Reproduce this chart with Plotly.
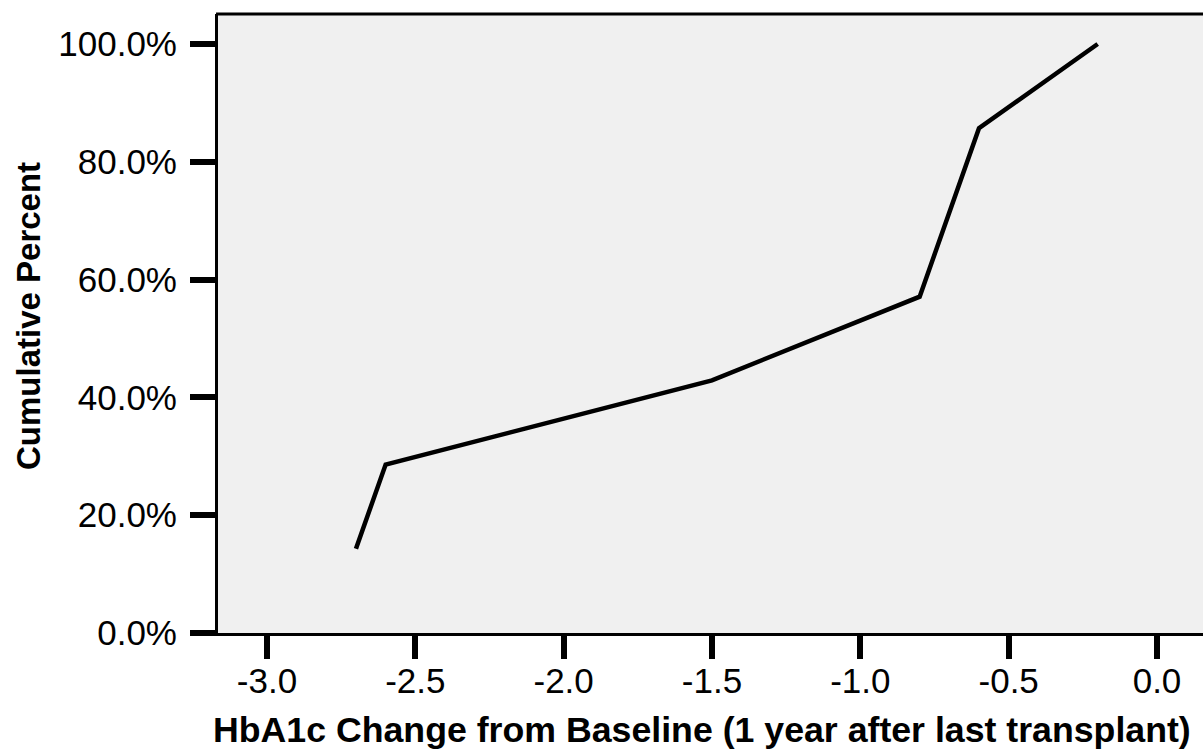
import plotly.graph_objects as go

# Data
hba1c_change = [-2.7, -2.6, -1.5, -0.8, -0.6, -0.2]
cumulative_percent = [14.3, 28.6, 42.9, 57.1, 85.7, 100.0]

x_tick_vals = [-3.0, -2.5, -2.0, -1.5, -1.0, -0.5, 0.0]
x_tick_text = ["-3.0", "-2.5", "-2.0", "-1.5", "-1.0", "-0.5", "0.0"]
y_tick_vals = [0, 20, 40, 60, 80, 100]
y_tick_text = ["0.0%", "20.0%", "40.0%", "60.0%", "80.0%", "100.0%"]

x_title = "HbA1c Change from Baseline (1 year after last transplant)"
y_title = "Cumulative Percent"

FONT = "Liberation Sans, Arial, sans-serif"

fig = go.Figure()
fig.add_trace(go.Scatter(
    x=hba1c_change, y=cumulative_percent, mode="lines",
    line=dict(color="black", width=4.5), showlegend=False, hoverinfo="x+y",
))

fig.update_layout(
    width=1203, height=752,
    margin=dict(l=218, r=0, t=14, b=119),
    paper_bgcolor="white", plot_bgcolor="#f0f0f0",
    font=dict(family=FONT, color="black", size=35),
    xaxis=dict(
        range=[-3.165, 0.155], tickvals=x_tick_vals, ticktext=x_tick_text,
        showgrid=False, zeroline=False, showline=True, linecolor="black", linewidth=3,
        ticks="outside", ticklen=23, tickwidth=6, tickcolor="black",
        tickfont=dict(size=35, family=FONT), ticklabelstandoff=-8,
    ),
    yaxis=dict(
        range=[0, 105.1], tickvals=y_tick_vals, ticktext=y_tick_text,
        showgrid=False, zeroline=False, showline=True, linecolor="black", linewidth=3,
        ticks="outside", ticklen=25, tickwidth=6, tickcolor="black",
        tickfont=dict(size=35, family=FONT), ticklabelstandoff=6,
    ),
    shapes=[dict(type="line", xref="paper", yref="paper", x0=-0.002, x1=1, y0=1, y1=1,
                 line=dict(color="black", width=3))],
    annotations=[
        dict(text="<b>" + x_title + "</b>", xref="paper", yref="paper",
             x=(702 - 218) / 985, y=0, xanchor="center", yanchor="top", yshift=-75,
             showarrow=False, font=dict(size=35.7, family=FONT, color="black")),
        dict(text="<b>" + y_title + "</b>", xref="paper", yref="paper",
             x=(28 - 218) / 985, y=(633 - 316) / 619, xanchor="center", yanchor="middle",
             textangle=-90, showarrow=False, font=dict(size=33, family=FONT, color="black")),
    ],
)

fig.write_html("out.html")
